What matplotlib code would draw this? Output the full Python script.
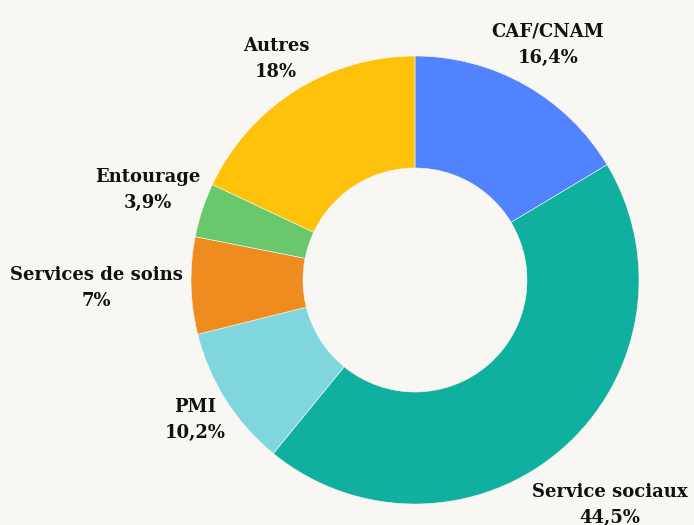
import matplotlib.pyplot as plt

labels = ["CAF/CNAM", "Service sociaux", "PMI", "Services de soins", "Entourage", "Autres"]
values = [16.4, 44.5, 10.2, 7.0, 3.9, 18.0]
pct_text = ["16,4%", "44,5%", "10,2%", "7%", "3,9%", "18%"]
colors = ["#5283FF", "#10AFA0", "#80D6DE", "#EF8C20", "#69C86C", "#FFC20A"]
# label centres (in radius units)
label_pos = [(0.594, 1.049), (0.871, -1.004), (-0.982, -0.625),
             (-1.424, -0.036), (-1.192, 0.402), (-0.621, 0.987)]

bg = "#F8F7F3"
fig = plt.figure(figsize=(6.94, 5.25), dpi=100, facecolor=bg)
ax = fig.add_axes([0, 0, 1, 1])
ax.set_facecolor(bg)

ax.pie(values, colors=colors, startangle=90, counterclock=False, radius=1,
       wedgeprops=dict(width=0.5, edgecolor=bg, linewidth=0.4))

for (x, y), lab, p in zip(label_pos, labels, pct_text):
    ax.text(x, y, f"{lab}\n{p}", ha="center", va="center", fontsize=13,
            fontweight="bold", family="DejaVu Serif", color="#111111",
            linespacing=1.6)

ax.set_xlim(-415 / 224, (694 - 415) / 224)
ax.set_ylim(-(525 - 280) / 224, 280 / 224)
ax.set_aspect("auto")
ax.axis("off")
fig.savefig("out.png", dpi=100, facecolor=bg)
